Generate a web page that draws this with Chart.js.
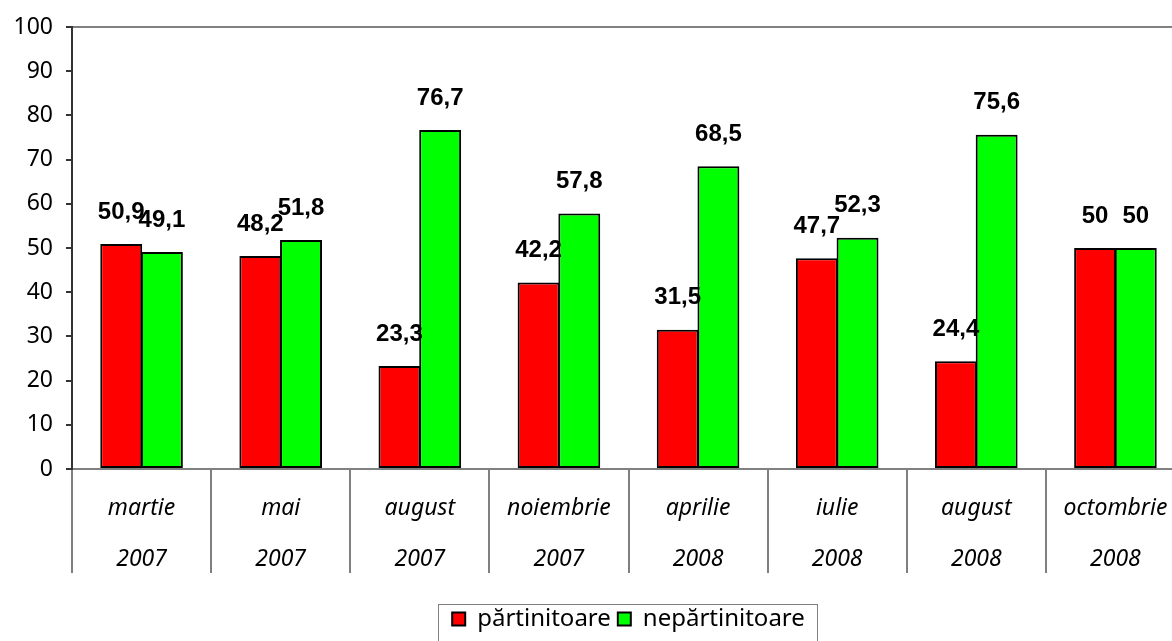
<!DOCTYPE html>
<html>
<head>
<meta charset="utf-8">
<script src="https://cdn.jsdelivr.net/npm/chart.js@4/dist/chart.umd.min.js"></script>
<style>
    html, body { margin: 0; padding: 0; background: #fff; overflow: hidden; }
    #outer { width: 1172px; height: 641px; overflow: hidden; }
    #wrap { width: 1185px; height: 641px; }
</style>
</head>
<body>
<div id="outer"><div id="wrap"><canvas id="chart"></canvas></div></div>
<script>
// chart data
const categories = [
    ['martie', '2007'], ['mai', '2007'], ['august', '2007'], ['noiembrie', '2007'],
    ['aprilie', '2008'], ['iulie', '2008'], ['august', '2008'], ['octombrie', '2008']
];
const seriesNames = ['părtinitoare', 'nepărtinitoare'];
const partinitoare = [50.9, 48.2, 23.3, 42.2, 31.5, 47.7, 24.4, 50];
const nepartinitoare = [49.1, 51.8, 76.7, 57.8, 68.5, 52.3, 75.6, 50];
const yTicks = [0, 10, 20, 30, 40, 50, 60, 70, 80, 90, 100];

const FONT = '"Noto Sans", "DejaVu Sans", sans-serif';

// value labels above the bars, decimal comma
const valueLabels = {
    id: 'valueLabels',
    afterDatasetsDraw(chart) {
        const ctx = chart.ctx;
        ctx.save();
        ctx.font = 'bold 24px "Liberation Sans", Arial, sans-serif';
        ctx.fillStyle = '#000';
        ctx.textAlign = 'center';
        ctx.textBaseline = 'middle';
        chart.data.datasets.forEach((ds, i) => {
            chart.getDatasetMeta(i).data.forEach((bar, j) => {
                const txt = String(ds.data[j]).replace('.', ',');
                ctx.fillText(txt, bar.x, bar.y - 32);
            });
        });
        ctx.restore();
    }
};

// frame round the legend
const legendFrame = {
    id: 'legendFrame',
    afterDraw(chart) {
        const boxes = chart.legend.legendHitBoxes;
        if (!boxes || !boxes.length) return;
        const left = Math.min(...boxes.map(b => b.left)) - 14;
        const right = Math.max(...boxes.map(b => b.left + b.width)) + 12;
        const top = Math.min(...boxes.map(b => b.top)) - 3;
        const ctx = chart.ctx;
        ctx.save();
        ctx.strokeStyle = '#808080';
        ctx.lineWidth = 1;
        ctx.strokeRect(Math.round(left) + 0.5, Math.round(top) + 0.5, Math.round(right - left), 60);
        ctx.restore();
    }
};

new Chart(document.getElementById('chart'), {
    type: 'bar',
    data: {
        labels: categories,
        datasets: [
            {
                label: seriesNames[0],
                data: partinitoare,
                backgroundColor: '#ff0000',
                borderColor: '#000',
                borderWidth: 2,
                borderSkipped: false,
                categoryPercentage: 0.585,
                barPercentage: 1.03
            },
            {
                label: seriesNames[1],
                data: nepartinitoare,
                backgroundColor: '#00ff00',
                borderColor: '#000',
                borderWidth: 2,
                borderSkipped: false,
                categoryPercentage: 0.585,
                barPercentage: 1.03
            }
        ]
    },
    options: {
        responsive: true,
        maintainAspectRatio: false,
        animation: false,
        layout: { padding: { top: 27, right: 0, left: 0, bottom: 0 } },
        scales: {
            x: {
                offset: true,
                grid: {
                    offset: true,
                    drawOnChartArea: false,
                    drawTicks: true,
                    tickLength: 104,
                    color: '#808080',
                    lineWidth: 2
                },
                border: { color: '#808080', width: 2 },
                ticks: {
                    color: '#000',
                    padding: -90,
                    maxRotation: 0,
                    font: { family: FONT, size: 23, style: 'italic', lineHeight: 2.22 }
                },
                afterFit(scale) { scale.height = 131; }
            },
            y: {
                min: 0,
                max: 100,
                afterBuildTicks(scale) { scale.ticks = yTicks.map(v => ({ value: v })); },
                grid: {
                    drawOnChartArea: true,
                    color: ctx => (ctx.tick && ctx.tick.value === 100 ? '#808080' : 'rgba(0,0,0,0)'),
                    lineWidth: 2,
                    tickColor: '#333',
                    tickLength: 6
                },
                border: { color: '#333', width: 2 },
                ticks: {
                    color: '#000',
                    padding: 13,
                    font: { family: FONT, size: 23 }
                },
                afterFit(scale) { scale.width = 72; }
            }
        },
        plugins: {
            legend: {
                position: 'bottom',
                fullSize: false,
                labels: {
                    color: '#000',
                    boxWidth: 13,
                    boxHeight: 13,
                    padding: 7,
                    font: { family: FONT, size: 24 }
                }
            },
            tooltip: { enabled: false }
        }
    },
    plugins: [valueLabels, legendFrame]
});
</script>
</body>
</html>
